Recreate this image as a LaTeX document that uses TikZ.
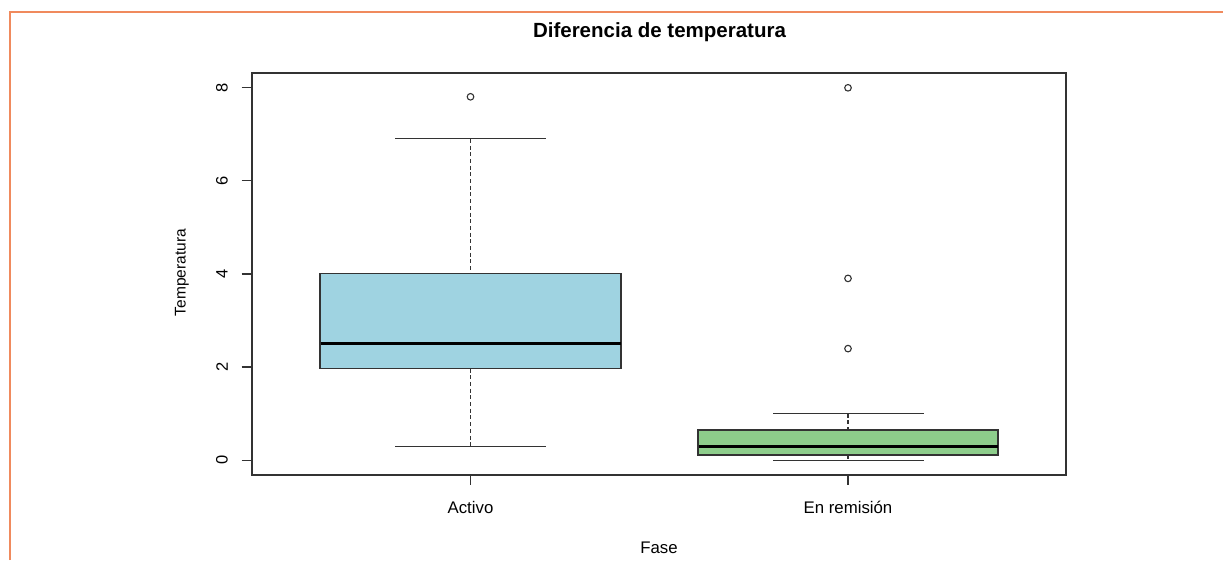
\documentclass[tikz,border=0pt]{standalone}
\usepackage{fontspec}
\setmainfont{Liberation Sans}
\definecolor{frameorange}{HTML}{F08A5D}
\definecolor{axisgrey}{HTML}{333333}
\definecolor{boxblue}{HTML}{9FD3E1}
\definecolor{boxgreen}{HTML}{8DCD8B}
\begin{document}
\begin{tikzpicture}[x=1pt,y=-1pt,
  axisline/.style={draw=axisgrey,line width=1.5pt},
  tickline/.style={draw=axisgrey,line width=1.3pt},
  boxrect/.style={draw=axisgrey,line width=1.1pt},
  medianline/.style={draw=black,line width=3pt},
  whisk/.style={draw=axisgrey,line width=1.2pt,dash pattern=on 4pt off 2.7pt},
  capline/.style={draw=axisgrey,line width=1.2pt},
  outlier/.style={draw=axisgrey,line width=1.1pt,fill=white},
  ticklab/.style={font=\fontsize{16.5}{19}\selectfont,text=black},
  vlabtext/.style={font=\fontsize{15.5}{18}\selectfont,text=black},
  labtext/.style={font=\fontsize{16.8}{19}\selectfont,text=black}]
\useasboundingbox (0,0) rectangle (1223,560);
% orange frame
\draw[frameorange,line width=1.5pt] (10,560) -- (10,12) -- (1223,12);
% title
\node[font=\bfseries\fontsize{20.5}{23}\selectfont] (title) at (659.5,32.5) {Diferencia de temperatura};
% plot frame
\draw[axisline] (252,73) rectangle (1066,475);
% y ticks
\foreach \v in {0,2,4,6,8}{
  \pgfmathsetmacro{\yy}{460.3-46.6*\v}
  \draw[tickline] (241.5,\yy) -- (252,\yy);
  \node[ticklab,rotate=90] (yl\v) at (222,\yy) {\v};
}
\node[vlabtext,rotate=90] (ylab) at (182,272.5) {Temperatura};
% x ticks
\draw[tickline] (470.5,475) -- (470.5,485);
\draw[tickline] (848,475) -- (848,485);
\node[labtext] (xl1) at (470.5,507) {Activo};
\node[labtext] (xl2) at (848,507) {En remisión};
\node[labtext] (xlab) at (659,548) {Fase};
% Activo box
\coordinate (a-q3) at (470.5,273.9);
\coordinate (a-q1) at (470.5,368.5);
\coordinate (a-hi) at (470.5,138.8);
\coordinate (a-lo) at (470.5,446.3);
\draw[whisk] (a-hi) -- (a-q3);
\draw[whisk] (a-q1) -- (a-lo);
\draw[capline] (395,138.8) -- (546,138.8);
\draw[capline] (395,446.3) -- (546,446.3);
\filldraw[boxrect,fill=boxblue] (320,273.9) rectangle (621,368.5);
\draw[medianline] (320.5,343.5) -- (620.5,343.5);
\draw[outlier] (470.5,96.8) circle (3.3);
% En remision box
\coordinate (b-q3) at (848,430);
\coordinate (b-q1) at (848,455);
\coordinate (b-hi) at (848,413.7);
\coordinate (b-lo) at (848,460.5);
\draw[whisk] (b-hi) -- (b-q3);
\draw[whisk] (b-q1) -- (b-lo);
\draw[capline] (773,413.7) -- (924,413.7);
\draw[capline] (773,460.5) -- (924,460.5);
\filldraw[boxrect,fill=boxgreen] (698,430) rectangle (998,455);
\draw[medianline] (698.5,446.5) -- (997.5,446.5);
\draw[outlier] (848,87.8) circle (3.3);
\draw[outlier] (848,278.4) circle (3.3);
\draw[outlier] (848,348.6) circle (3.3);
\end{tikzpicture}
\end{document}
